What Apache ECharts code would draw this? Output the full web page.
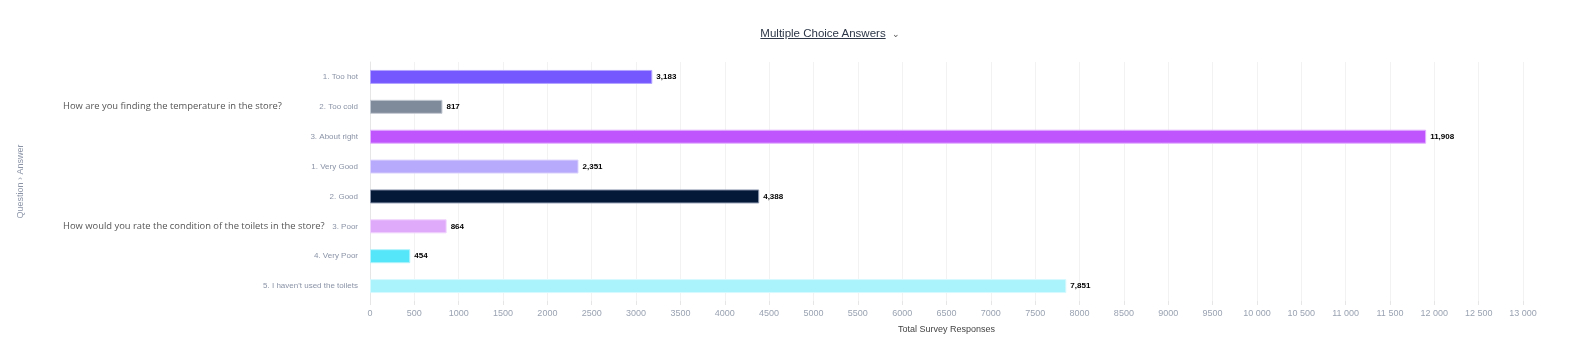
<!DOCTYPE html>
<html>
<head>
<meta charset="utf-8">
<script src="https://cdn.jsdelivr.net/npm/echarts@6/dist/echarts.min.js"></script>
<style>
  html, body { margin: 0; padding: 0; background: #fff; }
  #wrap { position: relative; width: 1583px; height: 353px; }
  #chart { width: 1583px; height: 353px; }
  .title {
    position: absolute; top: 27px; left: 0; width: 1660px; text-align: center;
    font-family: "Liberation Sans", Arial, sans-serif; font-size: 11.5px; color: #2d3748;
  }
  .title span { text-decoration: underline; }
  .title i { font-style: normal; font-size: 9px; margin-left: 6px; color: #555; }
</style>
</head>
<body>
<div id="wrap">
  <div id="chart"></div>
  <div class="title"><span>Multiple Choice Answers</span><i>&#8964;</i></div>
</div>
<script>
// 答案分类
const answers = [
  "1. Too hot", "2. Too cold", "3. About right",
  "1. Very Good", "2. Good", "3. Poor", "4. Very Poor", "5. I haven't used the toilets"
]
// 问题标签（只在中间行显示）
const questions = [
  "", "How are you finding the temperature in the store?", "",
  "", "", "How would you rate the condition of the toilets in the store?", "", ""
]
const responses = [3183, 817, 11908, 2351, 4388, 864, 454, 7851]
const barColors = ["#7559ff", "#7f8a9a", "#bf55fc", "#b7a9fb", "#041838", "#e0aafb", "#56e6fa", "#aaf3fc"]
const borderColors = ["#b3a5ff", "#c2c8d2", "#e3b1ff", "#dcd4fd", "#8c97ad", "#f0d3fd", "#b1f3fc", "#d6f9fe"]

const chart = echarts.init(document.getElementById("chart"))
chart.setOption({
  animation: false,
  grid: {
    left: 370,
    right: 60,
    top: 62,
    bottom: 52
  },
  xAxis: {
    type: "value",
    min: 0,
    max: 13000,
    interval: 500,
    name: "Total Survey Responses",
    nameLocation: "middle",
    nameGap: 24,
    nameTextStyle: { color: "#444", fontSize: 9, fontFamily: "Liberation Sans" },
    axisLine: { show: false },
    axisTick: { show: true, length: 4, lineStyle: { color: "#e6e6e6" } },
    splitLine: { lineStyle: { color: "#f2f2f2" } },
    axisLabel: {
      color: "#9aa3b2",
      fontSize: 9,
      fontFamily: "Liberation Sans",
      margin: 8,
      formatter: v => v >= 10000 ? String(v).replace(/(\d)(?=(\d{3})+$)/g, "$1 ") : String(v)
    }
  },
  yAxis: [
    {
      type: "category",
      data: answers,
      inverse: true,
      name: "Question › Answer",
      nameLocation: "middle",
      nameGap: 345,
      nameTextStyle: { color: "#8a93a6", fontSize: 9, fontFamily: "Liberation Sans" },
      axisLine: { show: true, lineStyle: { color: "#e6e6e6" } },
      axisTick: { show: false },
      axisLabel: { color: "#8a93a6", fontSize: 8, fontFamily: "Liberation Sans", margin: 12 }
    },
    {
      type: "category",
      data: questions,
      inverse: true,
      position: "left",
      axisLine: { show: false },
      axisTick: { show: false },
      axisLabel: {
        color: "#555",
        fontSize: 9.4,
        fontFamily: "Open Sans",
        align: "left",
        margin: 307,
        interval: 0
      }
    }
  ],
  series: [{
    type: "bar",
    data: responses.map((v, i) => ({
      value: v,
      itemStyle: { color: barColors[i], borderColor: borderColors[i], borderWidth: 1 }
    })),
    barWidth: 14,
    label: {
      show: true,
      position: "right",
      distance: 4,
      color: "#000",
      fontSize: 8,
      fontWeight: "bold",
      fontFamily: "Liberation Sans",
      formatter: p => p.value.toLocaleString("en-US")
    }
  }]
})
</script>
</body>
</html>
